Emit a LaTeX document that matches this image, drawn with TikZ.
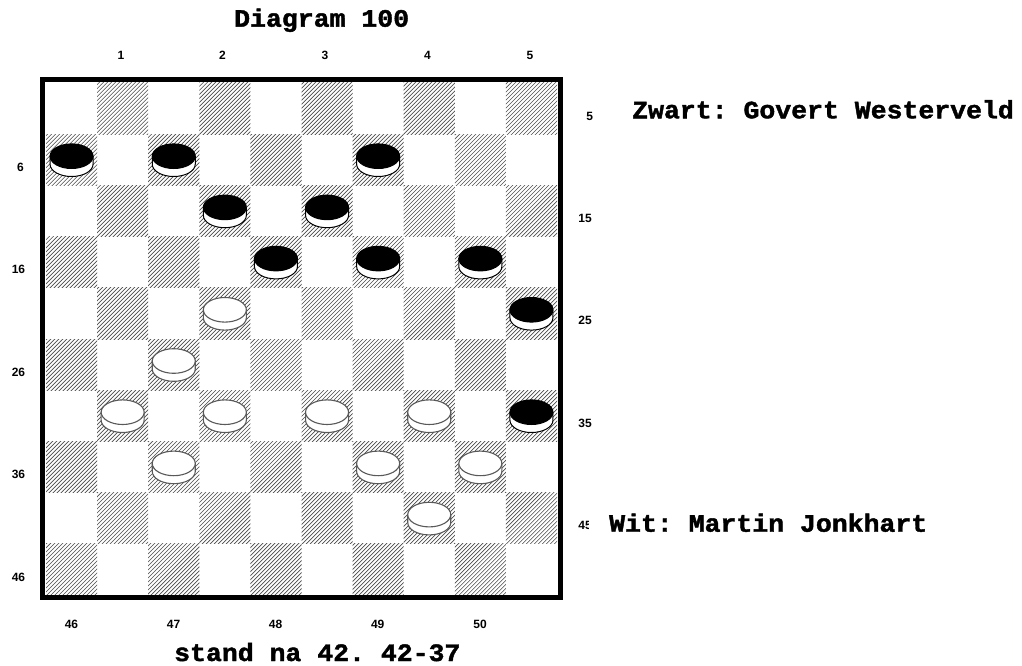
\documentclass[tikz,border=0pt]{standalone}
\usepackage{fontspec}
\newfontfamily\monofam{Liberation Mono}[BoldFeatures={FakeBold=1.6}]
\newfontfamily\labfam{Liberation Sans}
\usetikzlibrary{patterns.meta}
\newcommand{\ttl}[1]{\scalebox{1.06}[1]{\frenchspacing\monofam\bfseries\fontsize{25}{25}\selectfont #1}}
\begin{document}
\begin{tikzpicture}[x=1pt,y=-1pt,
  lbl/.style={font=\labfam\bfseries\fontsize{12}{12}\selectfont, inner sep=0},
  txt/.style={anchor=base west, inner sep=0},
  darksq/.style={pattern={Lines[angle=45,distance=2.83pt,line width=0.65pt]}, pattern color=black!70},
  frame/.style={draw=black, line width=5pt},
  brim/.style={fill=white, draw=black, line width=1pt},
  btop/.style={fill=black, draw=black, line width=1pt},
  wrim/.style={fill=white, draw=black!65, line width=1.1pt},
  wtop/.style={fill=white, draw=black!65, line width=1.1pt}]
\useasboundingbox (0,0) rectangle (1022,666);
% dark squares
\foreach \r in {0,...,9}{
  \foreach \c in {0,...,9}{
    \pgfmathparse{int(mod(\r+\c,2))}
    \ifnum\pgfmathresult=1
      \fill[darksq] ({46+51.1*\c},{83+51.2*\r}) rectangle ++(51.1,51.2);
    \fi
  }
}
\draw[frame] (42.5,80) rectangle (560,597.5);
% black pieces
\foreach \c/\r in {0/1,2/1,6/1,3/2,5/2,4/3,6/3,8/3,9/4,9/6}{
  \path[brim] ({71.55+51.1*\c-21.5},{105+51.2*\r}) -- ++(0,8)
     arc[start angle=180,end angle=0,x radius=21.5,y radius=12.3] -- ++(0,-8) -- cycle;
  \path[btop] ({71.55+51.1*\c},{105+51.2*\r}) ellipse[x radius=21.5,y radius=12.3];
}
% white pieces
\foreach \c/\r in {3/4,2/5,1/6,3/6,5/6,7/6,2/7,6/7,8/7,7/8}{
  \path[wrim] ({71.55+51.1*\c-21.5},{105+51.2*\r}) -- ++(0,8)
     arc[start angle=180,end angle=0,x radius=21.5,y radius=12.3] -- ++(0,-8) -- cycle;
  \path[wtop] ({71.55+51.1*\c},{105+51.2*\r}) ellipse[x radius=21.5,y radius=12.3];
}
% column labels top
\node[lbl] (t1) at (121,55) {1};
\node[lbl] (t2) at (222.5,55) {2};
\node[lbl] (t3) at (325,55) {3};
\node[lbl] (t4) at (427.5,55) {4};
\node[lbl] (t5) at (530,55) {5};
% bottom labels
\node[lbl] (b46) at (71.5,624) {46};
\node[lbl] (b47) at (173.5,624) {47};
\node[lbl] (b48) at (275.5,624) {48};
\node[lbl] (b49) at (377.7,624) {49};
\node[lbl] (b50) at (480,624) {50};
% left labels
\node[lbl] (l6) at (20.5,167.3) {6};
\node[lbl] (l16) at (18.5,269.7) {16};
\node[lbl] (l26) at (18.5,372.1) {26};
\node[lbl] (l36) at (18.5,474.5) {36};
\node[lbl] (l46) at (18.5,576.9) {46};
% right labels
\node[lbl] (r5) at (589.7,116) {5};
\node[lbl] (r15) at (585,218.4) {15};
\node[lbl] (r25) at (585,320.8) {25};
\node[lbl] (r35) at (585,423.2) {35};
\node[lbl] (r45) at (585,525.6) {45};
% texts
\node[txt] (title) at (234,26.7) {\ttl{Diagram 100}};
\node[txt] (zwart) at (632,118.3) {\ttl{Zwart: Govert Westerveld}};
\node[txt, fill=white, inner ysep=5pt] (wit) at (589,531.7) {\hspace*{20pt}\ttl{Wit: Martin Jonkhart}};
\node[txt] (stand) at (174,661) {\ttl{stand na 42. 42-37}};
\end{tikzpicture}
\end{document}
